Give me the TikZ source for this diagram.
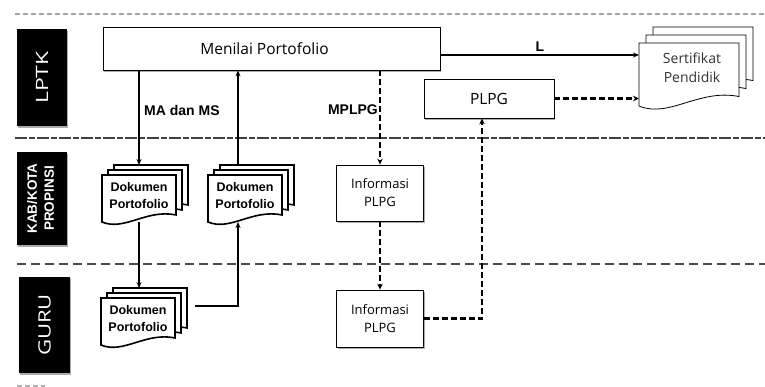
\documentclass[tikz,border=0pt]{standalone}
\usepackage{fontspec}
\setmainfont{Open Sans}
\newfontfamily\tagfont{Liberation Sans}
\usetikzlibrary{arrows.meta,calc,shadows}

% one page of a document symbol: style, left, top, width, height
\newcommand\docpage[5]{%
  \filldraw[#1] (#2,#3) -- ({#2+#4},#3) -- ({#2+#4},{#3+#5-0.15*#5})
    .. controls ({#2+0.6*#4},{#3+#5-0.28*#5}) and ({#2+0.3*#4},{#3+#5+0.2*#5}) .. (#2,{#3+#5}) -- cycle;}

\begin{document}
\begin{tikzpicture}[x=1pt,y=-1pt,
  shade box/.style={drop shadow={shadow xshift=1pt,shadow yshift=-1.8pt,fill=gray!65,opacity=1}},
  lane/.style={fill=black,text=white,inner sep=0pt,shade box},
  procbox/.style={draw=black,line width=0.8pt,fill=white,inner sep=0pt,align=center,
                  font=\fontsize{13}{18}\selectfont,shade box},
  flow/.style={line width=1.3pt,-{Stealth[length=6pt,width=5pt]}},
  dflow/.style={line width=2.4pt,dash pattern=on 6pt off 3pt,-{Stealth[length=6pt,width=5.5pt]}},
  tag/.style={font=\tagfont\bfseries\fontsize{14}{16}\selectfont,inner sep=0pt},
  docicon/.style={draw=black,fill=white,line width=1.6pt},
  certpage/.style={draw=black,fill=white,line width=0.8pt},
  doctext/.style={font=\tagfont\bfseries\fontsize{12.5}{17}\selectfont,align=center,inner sep=0pt},
  sep/.style={line width=1.6pt}]

\useasboundingbox (0,0) rectangle (765,387);

% lane separators
\draw[sep,gray!70,line width=2pt,dash pattern=on 5pt off 3pt] (15,14) -- (765,14);
\draw[sep,gray!50!black,dash pattern=on 12pt off 2pt on 6pt off 2pt] (15,138) -- (765,138);
\draw[sep,gray!60!black,dash pattern=on 9pt off 5pt] (17,264) -- (765,264);
\draw[gray!60,line width=2pt,dash pattern=on 5pt off 3pt] (17,386) -- (45,386);

% lane titles
\node[lane,minimum width=50pt,minimum height=97pt] (lptk) at (42,77.5)
  {\rotatebox{90}{\scalebox{1.35}[1]{\fontsize{17}{18}\selectfont LPTK}}};
\node[lane,minimum width=50pt,minimum height=93pt] (kab) at (42,198.5)
  {\rotatebox{90}{\tagfont\bfseries\fontsize{13.5}{17}\selectfont\begin{tabular}{@{}c@{}}KAB/KOTA\\PROPINSI\end{tabular}}};
\node[lane,minimum width=51pt,minimum height=96pt] (guru) at (44.5,325)
  {\rotatebox{90}{\scalebox{1.3}[1]{\fontsize{17}{18}\selectfont GURU}}};

% process boxes
\node[procbox,minimum width=337pt,minimum height=43pt,font=\fontsize{15.5}{18}\selectfont] (menilai) at (271.5,48.5) {\hspace*{-14pt}Menilai Portofolio};
\node[procbox,minimum width=130pt,minimum height=39pt,font=\fontsize{15.5}{18}\selectfont] (plpg) at (489,98.5) {PLPG};
\node[procbox,minimum width=87pt,minimum height=56pt] (info1) at (380,193) {Informasi\\PLPG};
\node[procbox,minimum width=87pt,minimum height=57pt] (info2) at (380,318.5) {Informasi\\PLPG};

% document stacks
\docpage{docicon}{114}{165}{74}{47}
\docpage{docicon}{108}{170}{74}{47}
\docpage{docicon}{102}{175}{74}{47}
\node[doctext] (dok1) at (139,196) {Dokumen\\Portofolio};

\docpage{docicon}{220}{165}{74}{47}
\docpage{docicon}{214}{170}{74}{47}
\docpage{docicon}{208}{175}{74}{47}
\node[doctext] (dok2) at (245,196) {Dokumen\\Portofolio};

\docpage{docicon}{113}{288}{74}{47}
\docpage{docicon}{107}{293}{74}{47}
\docpage{docicon}{101}{298}{74}{47}
\node[doctext] (dok3) at (138,319) {Dokumen\\Portofolio};

% certificate stack
\docpage{certpage}{653}{27}{100}{63}
\docpage{certpage}{646}{35}{100}{63}
\docpage{certpage}{639}{43}{100}{63}
\node[align=center,inner sep=0pt,text=black!80,font=\fontsize{14}{19}\selectfont] (cert) at (692,68)
  {Sertifikat\\Pendidik};

% connector end points on the document symbols
\coordinate (dok1top) at (139,165);
\coordinate (dok1bot) at (139,222);
\coordinate (dok2top) at (238,165);
\coordinate (dok2bot) at (238,222);
\coordinate (dok3top) at (139,288);
\coordinate (dok3out) at (195,306);
\coordinate (certL) at (639,55);
\coordinate (certP) at (639,98.5);

% solid flows
\draw[flow] (menilai.south -| dok1top) -- (dok1top);
\draw[flow] (dok1bot) -- (dok3top);
\draw[flow] (dok3out) -| (dok2bot);
\draw[flow] (dok2top) -- (menilai.south -| dok2top);
\draw[flow] (menilai.east |- certL) -- (certL);

% dashed flows
\draw[dflow] (menilai.south -| info1.north) -- (info1.north);
\draw[dflow] (info1.south) -- (info2.north);
\draw[dflow] (info2.east) -| ([xshift=-7pt]plpg.south);
\draw[dflow] (plpg.east) -- (certP);

% flow labels
\node[tag,anchor=west] (lblma) at (144,110) {MA dan MS};
\node[tag,anchor=east] (lblmp) at (378,110) {MPLPG};
\node[tag] (lbll) at (540,47) {L};

\end{tikzpicture}
\end{document}
